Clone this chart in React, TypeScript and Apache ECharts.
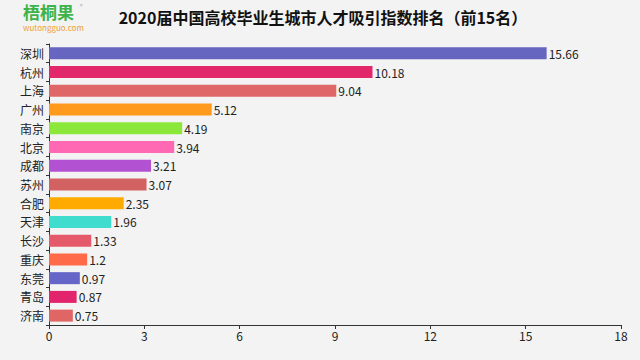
import React, { useEffect, useRef } from "react";
import * as echarts from "echarts";

const cities = ["深圳", "杭州", "上海", "广州", "南京", "北京", "成都", "苏州", "合肥", "天津", "长沙", "重庆", "东莞", "青岛", "济南"];
const values = [15.66, 10.18, 9.04, 5.12, 4.19, 3.94, 3.21, 3.07, 2.35, 1.96, 1.33, 1.2, 0.97, 0.87, 0.75];
const barColors = ["#6665c0", "#e2276b", "#e06767", "#ff9a1c", "#8be83b", "#ff69b4", "#b251d1", "#d26262", "#ffaa00", "#40dccd", "#e45a6a", "#ff6a48", "#6665c8", "#e2246c", "#e06666"];
const xTicks = [0, 3, 6, 9, 12, 15, 18];

const FONT = "'Noto Sans CJK SC', 'Noto Sans', sans-serif";

export default function App() {
  const ref = useRef<HTMLDivElement>(null);
  useEffect(() => {
    if (!ref.current) return;
    const chart = echarts.init(ref.current, null, { renderer: "svg" });
    chart.setOption({
      animation: false,
      backgroundColor: "#f3f3f3",
      title: {
        text: "2020届中国高校毕业生城市人才吸引指数排名（前15名）",
        left: 318,
        textAlign: "center",
        top: 4,
        textStyle: { fontFamily: FONT, fontSize: 16, fontWeight: "bold", color: "#111" },
      },
      graphic: [
        {
          type: "text",
          left: 23,
          top: 3,
          style: { text: "梧桐果", fontFamily: FONT, fontSize: 17, lineHeight: 17, fontWeight: "bold", fill: "#3db34a" },
        },
        {
          type: "text",
          left: 80,
          top: 3,
          style: { text: "®", fontFamily: FONT, fontSize: 5, lineHeight: 5, fill: "#999" },
        },
        {
          type: "text",
          left: 23,
          top: 23,
          style: { text: "wutongguo.com", fontFamily: FONT, fontSize: 8, lineHeight: 8, fill: "#f0a030" },
        },
      ],
      grid: { left: 49, right: 19, top: 44, bottom: 35, containLabel: false },
      xAxis: {
        type: "value",
        min: xTicks[0],
        max: xTicks[xTicks.length - 1],
        interval: 3,
        splitLine: { show: false },
        axisLine: { show: true, lineStyle: { color: "#333" } },
        axisTick: { show: true, length: 4, lineStyle: { color: "#333" } },
        axisLabel: { fontFamily: FONT, fontSize: 12, color: "#222", margin: 4 },
      },
      yAxis: {
        type: "category",
        inverse: true,
        data: cities,
        axisLine: { show: true, lineStyle: { color: "#333" } },
        axisTick: { show: true, length: 3, lineStyle: { color: "#333" } },
        axisLabel: { fontFamily: FONT, fontSize: 12, color: "#222", margin: 5 },
      },
      series: [
        {
          type: "bar",
          barWidth: 12,
          data: values.map((v, i) => ({ value: v, itemStyle: { color: barColors[i] } })),
          label: {
            show: true,
            position: "right",
            distance: 2,
            fontFamily: FONT,
            fontSize: 12,
            color: "#222",
          },
        },
      ],
    });
    return () => chart.dispose();
  }, []);
  return <div ref={ref} style={{ width: 640, height: 360, position: "fixed", left: 0, top: 0 }} />;
}
